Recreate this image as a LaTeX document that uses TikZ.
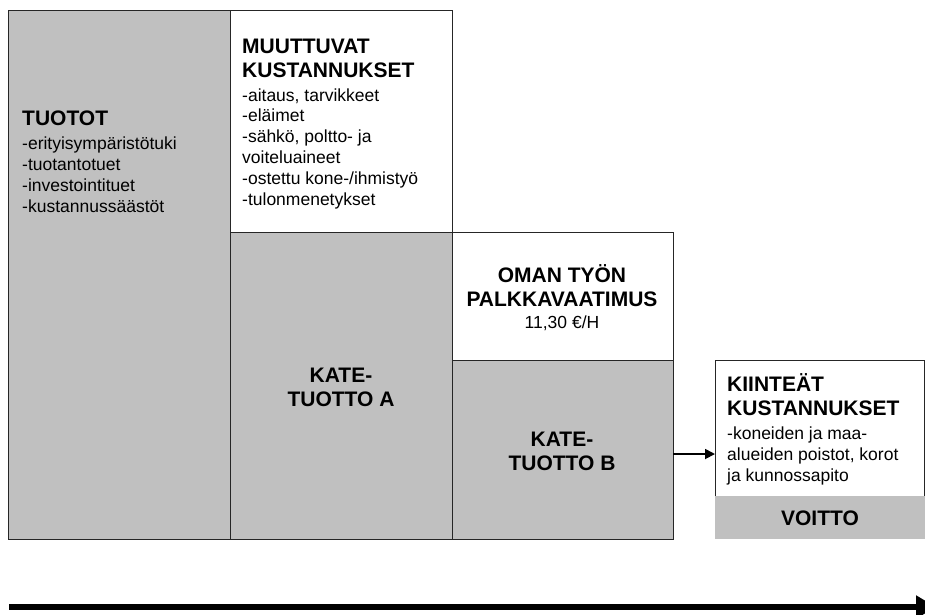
\documentclass[tikz,border=0pt]{standalone}
\usepackage{fontspec}
\setmainfont{Liberation Sans}
\usepackage{xcolor}
\usetikzlibrary{positioning}
\usetikzlibrary{arrows.meta}

\definecolor{boxgray}{HTML}{C0C0C0}

\begin{document}
\begin{tikzpicture}[
    x = 1pt,
    y = -1pt,
    node distance = 0pt,
    greybox/.style = {
      rectangle,
      draw=black!85,
      fill=boxgray,
      line width=0.8pt,
      inner sep=0pt,
      outer sep=0pt
    },
    whitebox/.style = {
      greybox,
      fill=white
    },
    hdr/.style = {
      font=\bfseries\fontsize{21}{24}\selectfont,
      inner sep=0pt,
      align=left,
      anchor=base west
    },
    hdrc/.style = {
      hdr,
      align=center,
      anchor=base
    },
    txt/.style = {
      font=\fontsize{17.5}{20.8}\selectfont,
      inner sep=0pt,
      align=left,
      anchor=base west
    },
    smallarr/.style = {
      line width=1.8pt,
      -{Triangle[length=10pt,width=10pt]}
    },
    bigarr/.style = {
      line width=5.5pt,
      -{Triangle[length=20pt,width=22pt]}
    }
  ]
    \useasboundingbox (0,0) rectangle (925,614);

    % boxes
    \node[greybox, minimum width=222pt, minimum height=529pt, anchor=north west] (tuotot) at (8,10) {};
    \node[whitebox, minimum width=222pt, minimum height=222pt, anchor=north west] (muut) at (tuotot.north east) {};
    \node[greybox, minimum width=222pt, minimum height=307pt] (kateA) [below=of muut] {};
    \node[whitebox, minimum width=221pt, minimum height=128pt, anchor=north west] (oman) at (kateA.north east) {};
    \node[greybox, minimum width=221pt, minimum height=179pt] (kateB) [below=of oman] {};
    \node[whitebox, minimum width=209pt, minimum height=136pt, anchor=north west] (kiint) at (715,360) {};
    \node[greybox, draw=none, minimum width=210pt, minimum height=43pt, anchor=north west] (voitto) at (kiint.south west) {};

    % texts (anchored at the baseline of the last line)
    \node[hdr] (tuototHd) at (22,125) {TUOTOT};
    \node[txt] (tuototTx) at (22,212) {-erityisympäristötuki\\-tuotantotuet\\-investointituet\\-kustannussäästöt};

    \node[hdr] (muutHd) at (242,77) {MUUTTUVAT\\KUSTANNUKSET};
    \node[txt] (muutTx) at (242,205) {-aitaus, tarvikkeet\\-eläimet\\-sähkö, poltto- ja\\voiteluaineet\\-ostettu kone-/ihmistyö\\-tulonmenetykset};

    \node[hdrc] (kateAHd) at (341,406) {KATE-\\TUOTTO A};

    \node[hdrc] (omanHd) at (562,306) {OMAN TYÖN\\PALKKAVAATIMUS};
    \node[txt, anchor=base] (omanTx) at (562,328) {11,30 €/H};

    \node[hdrc] (kateBHd) at (562,470) {KATE-\\TUOTTO B};

    \node[hdr] (kiintHd) at (727,415) {KIINTEÄT\\KUSTANNUKSET};
    \node[txt] (kiintTx) at (727,481) {-koneiden ja maa-\\alueiden poistot, korot\\ja kunnossapito};

    \node[hdrc] (voittoHd) at (voitto.center |- 0,525) {VOITTO};

    % arrows
    \draw[smallarr] ([yshift=-4.5pt]kateB.east) -- ([yshift=-4.5pt]kateB.east -| kiint.west);

    \coordinate (axisL) at (9,607);
    \coordinate (axisR) at (936,607);
    \draw[bigarr] (axisL) -- (axisR);
  \end{tikzpicture}
\end{document}
